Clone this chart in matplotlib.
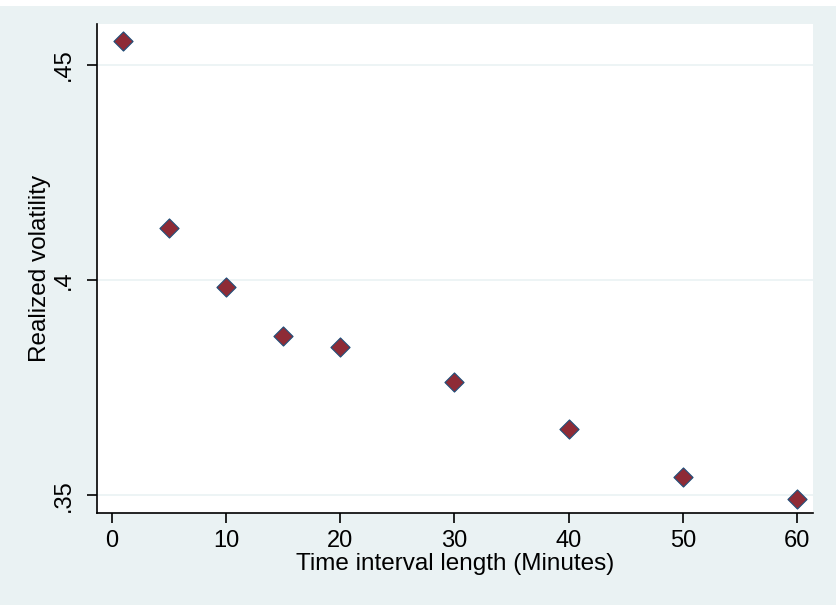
import matplotlib.pyplot as plt
from matplotlib.patches import Rectangle

# 数据：时间间隔长度（分钟）与已实现波动率
interval_minutes = [1, 5, 10, 15, 20, 30, 40, 50, 60]
realized_vol = [0.4555, 0.4122, 0.3985, 0.3871, 0.3845, 0.3764, 0.3653, 0.3543, 0.3491]

x_ticks = [0, 10, 20, 30, 40, 50, 60]
y_ticks = [0.35, 0.40, 0.45]
y_tick_labels = [".35", ".4", ".45"]

bg = "#EAF2F3"
plt.rcParams["font.family"] = ["Liberation Sans", "DejaVu Sans"]

fig = plt.figure(figsize=(8.36, 6.05), dpi=100, facecolor=bg)
W, H = 836, 605
left, right, top, bottom = 97, 813, 24, 513.3
ax = fig.add_axes([left / W, 1 - bottom / H, (right - left) / W, (bottom - top) / H])
ax.set_facecolor("white")

# 顶部被裁切的白色条
fig.patches.append(Rectangle((0, 1 - 6 / H), 1, 6 / H, transform=fig.transFigure,
                             facecolor="white", edgecolor="none", zorder=0))

ax.scatter(interval_minutes, realized_vol, marker="D", s=95,
           facecolor="#8E2B36", edgecolor="#1F4E79", linewidth=0.8, zorder=3)

ax.set_xlim(-1.31, 61.4)
ax.set_ylim(0.3458, 0.4595)
ax.set_xticks(x_ticks)
ax.set_yticks(y_ticks)
ax.set_yticklabels(y_tick_labels, rotation=90, va="center")
ax.tick_params(axis="both", labelsize=17, length=7, width=1.2, colors="black", pad=5)
ax.tick_params(axis="y", pad=9)

ax.grid(axis="y", color=bg, linewidth=1.2)
ax.grid(axis="x", visible=False)
ax.set_axisbelow(True)

for s in ["top", "right"]:
    ax.spines[s].set_visible(False)
for s in ["left", "bottom"]:
    ax.spines[s].set_linewidth(1.2)
    ax.spines[s].set_color("black")

ax.set_xlabel("Time interval length (Minutes)", fontsize=17.5, labelpad=1)
ax.set_ylabel("Realized volatility", fontsize=17.5, labelpad=1)

fig.savefig("out.png", dpi=100, facecolor=bg)
